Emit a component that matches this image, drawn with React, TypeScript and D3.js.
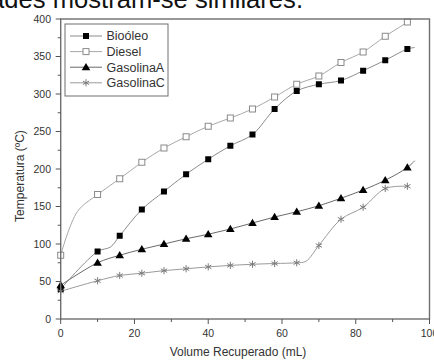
import React from "react";
import * as d3 from "d3";

const volumes = [0, 10, 16, 22, 28, 34, 40, 46, 52, 58, 64, 70, 76, 82, 88, 94];
const bioleo = [40, 90, 111, 146, 170, 193, 213, 231, 246, 280, 304, 313, 318, 331, 345, 360];
const diesel = [85, 166, 187, 209, 228, 243, 257, 268, 280, 296, 313, 324, 342, 356, 377, 396];
const gasolinaA = [45, 75, 85, 93, 100, 107, 113, 120, 128, 136, 143, 151, 161, 172, 185, 202];
const gasolinaC = [37, 51, 58, 61, 64.5, 67, 69.5, 71.5, 73, 74, 75, 98, 133, 149, 174, 177];

// unmarked intermediate readings of the spline curves [volume, temperature]
const bioleoExtra: [number, number][] = [[13.5, 96], [96, 362]];
const dieselExtra: [number, number][] = [[4.5, 143], [96, 404]];
const gasolinaAExtra: [number, number][] = [[96, 211]];
const gasolinaCExtra: [number, number][] = [[66.5, 77]];

const xTicks = [0, 20, 40, 60, 80, 100];
const yTicks = [0, 50, 100, 150, 200, 250, 300, 350, 400];
const seriesNames = ["Bioóleo", "Diesel", "GasolinaA", "GasolinaC"];

const W = 434;
const H = 363;
const x = d3.scaleLinear().domain([0, 100]).range([60.7, 429.5]);
const y = d3.scaleLinear().domain([0, 400]).range([319, 19]);

type Pt = [number, number];

function buildPoints(vals: number[], extra: Pt[]): Pt[] {
  const pts: Pt[] = volumes.map((v, i) => [v, vals[i]] as Pt).concat(extra);
  return pts.sort((a, b) => a[0] - b[0]);
}

const lineGen = d3
  .line<Pt>()
  .x((d) => x(d[0]))
  .y((d) => y(d[1]))
  .curve(d3.curveCatmullRom.alpha(0.5));

type Kind = "fsq" | "osq" | "tri" | "star";

function Marker({ cx, cy, kind }: { cx: number; cy: number; kind: Kind }) {
  if (kind === "fsq") return <rect x={cx - 3} y={cy - 3} width={6} height={6} fill="#000" />;
  if (kind === "osq")
    return <rect x={cx - 3} y={cy - 3} width={6} height={6} fill="#fff" stroke="#8a8a8a" strokeWidth={1} />;
  if (kind === "tri")
    return <path d={`M${cx},${cy - 4.2} L${cx + 4.3},${cy + 3} L${cx - 4.3},${cy + 3} Z`} fill="#000" />;
  const r = 3.6;
  const a = r * Math.cos(Math.PI / 6);
  const b = r * Math.sin(Math.PI / 6);
  return (
    <g stroke="#7a7a7a" strokeWidth={1}>
      <line x1={cx} y1={cy - r} x2={cx} y2={cy + r} />
      <line x1={cx - a} y1={cy - b} x2={cx + a} y2={cy + b} />
      <line x1={cx - a} y1={cy + b} x2={cx + a} y2={cy - b} />
    </g>
  );
}

const series = [
  { name: seriesNames[0], vals: bioleo, extra: bioleoExtra, kind: "fsq" as Kind, stroke: "#8c8c8c" },
  { name: seriesNames[1], vals: diesel, extra: dieselExtra, kind: "osq" as Kind, stroke: "#a8a8a8" },
  { name: seriesNames[2], vals: gasolinaA, extra: gasolinaAExtra, kind: "tri" as Kind, stroke: "#6a6a6a" },
  { name: seriesNames[3], vals: gasolinaC, extra: gasolinaCExtra, kind: "star" as Kind, stroke: "#9a9a9a" },
];

export default function App() {
  const x0 = x(0);
  const x1 = x(100);
  const y0 = y(0);
  const y1 = y(400);
  const xMinor = d3.range(10, 100, 20);
  const yMinor = d3.range(25, 400, 50);
  const font = "'Liberation Sans', Arial, sans-serif";
  return (
    <svg
      width={W}
      height={H}
      style={{ position: "absolute", left: 0, top: 0, background: "#fff" }}
      fontFamily={font}
    >
      <rect width={W} height={H} fill="#fff" />
      <text x={303} y={8} fontSize={25.6} textAnchor="end" fill="#111">
        propriedades mostram-se similares.
      </text>
      <defs>
        <clipPath id="plot">
          <rect x={x0} y={y1} width={x1 - x0} height={y0 - y1} />
        </clipPath>
      </defs>

      {/* series */}
      <g clipPath="url(#plot)">
        {series.map((s) => (
          <path key={s.name} d={lineGen(buildPoints(s.vals, s.extra)) || ""} fill="none" stroke={s.stroke} strokeWidth={1} />
        ))}
      </g>
      {series.map((s) => (
        <g key={s.name + "m"}>
          {volumes.map((v, i) => (
            <Marker key={i} cx={x(v)} cy={y(s.vals[i])} kind={s.kind} />
          ))}
        </g>
      ))}

      {/* frame */}
      <rect x={x0} y={y1} width={x1 - x0} height={y0 - y1} fill="none" stroke="#6e6e6e" strokeWidth={1.4} />

      {/* x axis ticks */}
      {xTicks.map((t) => (
        <g key={"xt" + t}>
          <line x1={x(t)} x2={x(t)} y1={y0} y2={y0 + 5} stroke="#555" />
          <text x={x(t)} y={337} fontSize={10.5} textAnchor="middle" fill="#333">
            {t}
          </text>
        </g>
      ))}
      {xMinor.map((t) => (
        <line key={"xm" + t} x1={x(t)} x2={x(t)} y1={y0} y2={y0 + 3} stroke="#555" />
      ))}
      {/* y axis ticks */}
      {yTicks.map((t) => (
        <g key={"yt" + t}>
          <line x1={x0 - 5} x2={x0} y1={y(t)} y2={y(t)} stroke="#555" />
          <text x={51} y={y(t) + 3.7} fontSize={10.5} textAnchor="end" fill="#333">
            {t}
          </text>
        </g>
      ))}
      {yMinor.map((t) => (
        <line key={"ym" + t} x1={x0 - 3} x2={x0} y1={y(t)} y2={y(t)} stroke="#555" />
      ))}

      {/* axis titles */}
      <text x={238} y={356} fontSize={12} textAnchor="middle" fill="#333">
        Volume Recuperado (mL)
      </text>
      <text transform="translate(24,176) rotate(-90)" fontSize={12} textAnchor="middle" fill="#333">
        Temperatura (ºC)
      </text>

      {/* legend */}
      <rect x={65} y={24} width={103} height={72} fill="#fff" stroke="#6e6e6e" strokeWidth={1} />
      {series.map((s, i) => {
        const ly = 36 + i * 15.6;
        return (
          <g key={"lg" + s.name}>
            <line x1={70} x2={102} y1={ly} y2={ly} stroke={s.stroke} strokeWidth={1} />
            <Marker cx={86} cy={ly} kind={s.kind} />
            <text x={106.5} y={ly + 4.3} fontSize={12.5} fill="#333">
              {s.name}
            </text>
          </g>
        );
      })}
    </svg>
  );
}
